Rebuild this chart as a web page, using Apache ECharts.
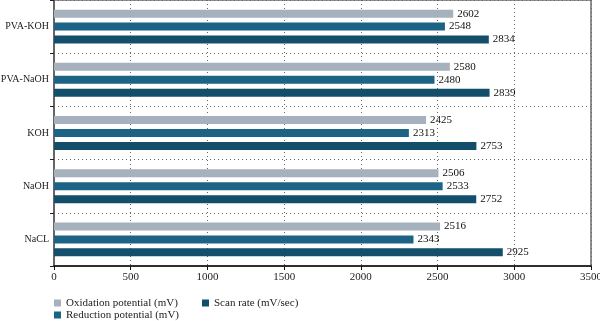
<!DOCTYPE html>
<html><head><meta charset="utf-8">
<script src="https://cdn.jsdelivr.net/npm/echarts@6/dist/echarts.min.js"></script>
<style>html,body{margin:0;padding:0;background:#fff}#c{width:600px;height:321px}</style>
</head><body><div id="c"></div>
<script>
const categories = ['PVA-KOH', 'PVA-NaOH', 'KOH', 'NaOH', 'NaCL'];
const oxidation = [2602, 2580, 2425, 2506, 2516];
const reduction = [2548, 2480, 2313, 2533, 2343];
const scanRate = [2834, 2839, 2753, 2752, 2925];
const seriesNames = ['Oxidation potential (mV)', 'Reduction potential (mV)', 'Scan rate (mV/sec)'];
const xTicks = [0, 500, 1000, 1500, 2000, 2500, 3000, 3500];

const font = 'Liberation Serif';
const colors = ['#a5b1bd', '#1c6385', '#134f6b'];
const chart = echarts.init(document.getElementById('c'));
const mk = (name, data, color) => ({
  name, type: 'bar', data, barWidth: 8, barGap: '62%',
  itemStyle: { color },
  label: { show: true, position: 'right', distance: 4, color: '#111', fontFamily: font, fontSize: 11 }
});
const legendText = { fontFamily: font, fontSize: 11, color: '#222', lineHeight: 12, padding: [0, 0, 0, 0] };
chart.setOption({
  animation: false,
  textStyle: { fontFamily: font },
  grid: { left: 54, right: 9, top: 0, bottom: 55, outerBoundsMode: 'none', containLabel: false, show: true, borderColor: '#222', borderWidth: 1 },
  legend: [
    { data: [seriesNames[0], seriesNames[1]], orient: 'vertical', left: 54, top: 297, height: 30, itemWidth: 7, itemHeight: 7, itemGap: 0, icon: 'rect', padding: 0,
      textStyle: legendText },
    { data: [seriesNames[2]], orient: 'vertical', left: 202, top: 297, height: 30, itemWidth: 7, itemHeight: 7, itemGap: 0, icon: 'rect', padding: 0,
      textStyle: legendText }
  ],
  xAxis: {
    type: 'value', min: xTicks[0], max: xTicks[xTicks.length - 1], interval: 500,
    axisLine: { show: true, lineStyle: { color: '#111', width: 1.5 } },
    axisTick: { show: true, length: 4, lineStyle: { color: '#111' } },
    axisLabel: { color: '#222', fontFamily: font, fontSize: 11, margin: 6, formatter: v => String(v) },
    splitLine: { show: true, lineStyle: { type: [1, 3], color: '#666' } }
  },
  yAxis: {
    type: 'category', data: categories, inverse: true,
    axisLine: { show: true, lineStyle: { color: '#666', width: 2 } },
    axisTick: { show: true, length: 4, lineStyle: { color: '#222' } },
    axisLabel: { color: '#222', fontFamily: font, fontSize: 10, margin: 5 },
    splitLine: { show: true, lineStyle: { type: [1, 3], color: '#666' } }
  },
  series: [mk(seriesNames[0], oxidation, colors[0]), mk(seriesNames[1], reduction, colors[1]), mk(seriesNames[2], scanRate, colors[2])]
});
</script></body></html>
